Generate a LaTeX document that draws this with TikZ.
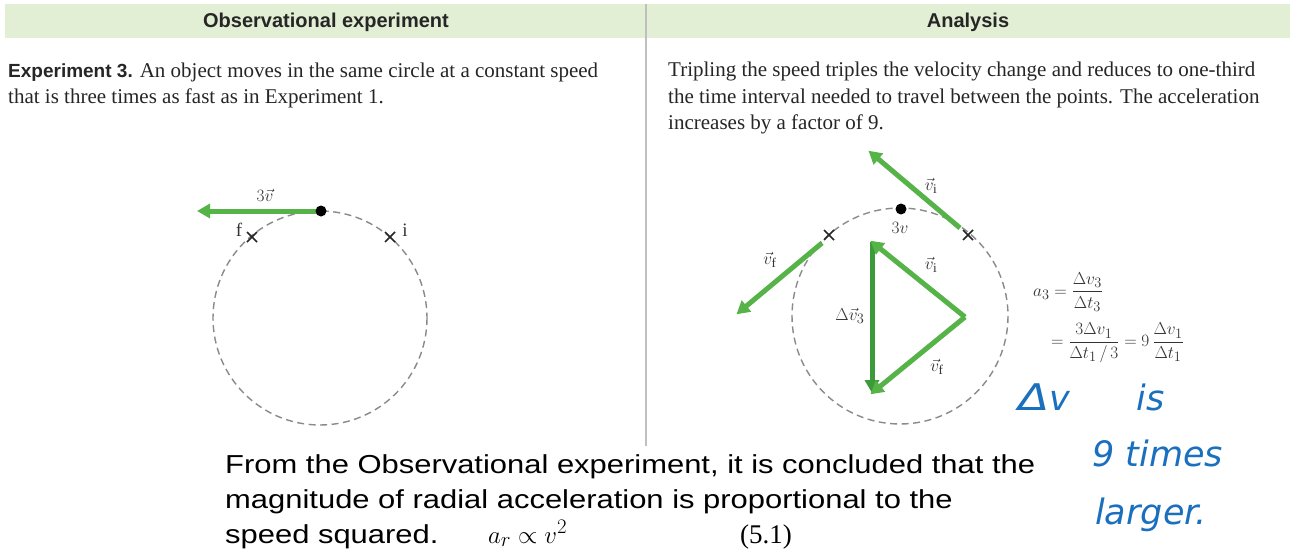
\documentclass[tikz,border=0pt]{standalone}
\usepackage{amsmath}
\usepackage{fontspec}
\setmainfont{Liberation Serif}
\setsansfont{Liberation Sans}
\newfontfamily\handfont{DejaVu Sans}
\usetikzlibrary{arrows.meta,calc}
\definecolor{hdrgreen}{HTML}{E2EFD4}
\definecolor{vgreen}{HTML}{55B347}
\definecolor{dgreen}{HTML}{3C9A3A}
\definecolor{circgray}{HTML}{8A8A8A}
\definecolor{inkblue}{HTML}{1A6FBF}
\tikzset{
  hdr/.style={font=\sffamily\bfseries\fontsize{20}{22}\selectfont, text=black!85},
  body/.style={anchor=base west, inner sep=0pt, font=\fontsize{21}{24}\selectfont, text=black!85},
  concl/.style={anchor=base west, inner sep=0pt, font=\sffamily\fontsize{26}{28}\selectfont},
  lbl/.style={inner sep=0pt, font=\fontsize{19}{21}\selectfont, text=black!80},
  orbit/.style={draw=circgray, line width=1.4pt, dash pattern=on 7pt off 4.5pt},
  vec/.style={draw=vgreen, line width=5pt, -{Triangle[length=13pt,width=14pt]}, shorten >=-2pt},
  dvec/.style={draw=dgreen, line width=5pt, -{Triangle[length=13pt,width=14pt]}},
  cross/.style={draw=black!85, line width=1.6pt},
  hand/.style={anchor=base west, inner sep=0pt, text=inkblue, font=\handfont\itshape\fontsize{35}{38}\selectfont},
}
\begin{document}
\begin{tikzpicture}[x=1pt,y=-1pt]
\useasboundingbox (0,0) rectangle (1290,557);
\fill[white] (0,0) rectangle (1290,557);
% header band
\fill[hdrgreen] (5,4) rectangle (1290,38);
\draw[black!25, line width=1.6pt] (646,4) -- (646,446);
\node[hdr] (h1) at (326,22) {Observational experiment};
\node[hdr] (h2) at (968,22) {Analysis};
% left text
\node[body] (l1) at (8,77) {{\sffamily\bfseries\fontsize{19}{22}\selectfont Experiment 3.} An object moves in the same circle at a constant speed};
\node[body] (l2) at (8,103) {that is three times as fast as in Experiment 1.};
% right text
\node[body] (r1) at (668,76) {Tripling the speed triples the velocity change and reduces to one-third};
\node[body] (r2) at (668,103) {the time interval needed to travel between the points. The acceleration};
\node[body] (r3) at (668,129) {increases by a factor of 9.};
% left circle
\coordinate (cL) at (320,318);
\draw[orbit] (cL) circle[radius=107];
\coordinate (dotL) at (321,211);
\coordinate (tipL) at (199,211);
\draw[vec] (dotL) -- (tipL);
\fill[black] (dotL) circle[radius=5.5];
\node[lbl] (v3L) at (265,195) {$3\vec{v}$};
\coordinate (fL) at (252,237);
\coordinate (iL) at (390,237);
\draw[cross] ($(fL)+(-5,-5)$) -- ($(fL)+(5,5)$) ($(fL)+(-5,5)$) -- ($(fL)+(5,-5)$);
\draw[cross] ($(iL)+(-5,-5)$) -- ($(iL)+(5,5)$) ($(iL)+(-5,5)$) -- ($(iL)+(5,-5)$);
\node[lbl] (fLl) at (239,230) {f};
\node[lbl] (iLl) at (405,230) {i};
% right circle
\coordinate (cR) at (900,316);
\draw[orbit] (cR) circle[radius=108];
\coordinate (dotR) at (901,209);
\coordinate (fR) at (829,235);
\coordinate (iR) at (968,235);
\coordinate (viS) at (960,228);
\coordinate (viT) at (870,152);
\coordinate (vfS) at (822,243);
\coordinate (vfT) at (738,313);
\draw[vec] (viS) -- (viT);
\draw[vec] (vfS) -- (vfT);
\draw[cross] ($(fR)+(-5,-5)$) -- ($(fR)+(5,5)$) ($(fR)+(-5,5)$) -- ($(fR)+(5,-5)$);
\draw[cross] ($(iR)+(-5,-5)$) -- ($(iR)+(5,5)$) ($(iR)+(-5,5)$) -- ($(iR)+(5,-5)$);
\fill[black] (dotR) circle[radius=5.5];
\node[lbl] (v3R) at (900,228) {$3v$};
\node[lbl] (viL) at (931,186) {$\vec{v}_{\mathrm{i}}$};
\node[lbl] (vfL) at (770,260) {$\vec{v}_{\mathrm{f}}$};
% triangle
\coordinate (tA) at (872,242);
\coordinate (tB) at (965,317);
\coordinate (tC) at (872,393);
\draw[dvec] (tA) -- (tC);
\draw[vec, line join=round] (tB) -- (tA);
\draw[vec] (tB) -- (tC);
\node[lbl] (vi2) at (931,265) {$\vec{v}_{\mathrm{i}}$};
\node[lbl] (vf2) at (937,367) {$\vec{v}_{\mathrm{f}}$};
\node[lbl] (dv3) at (850,316) {$\Delta\vec{v}_3$};
% equation
\node[lbl, anchor=west] (eq1) at (1033,292) {$a_3 = \dfrac{\Delta v_3}{\Delta t_3}$};
\node[lbl, anchor=west] (eq2) at (1051,343) {$= \dfrac{3\Delta v_1}{\Delta t_1\,/\,3} = 9\,\dfrac{\Delta v_1}{\Delta t_1}$};
% conclusion
\node[concl] (c1) at (225,473) {\scalebox{1.19}[1]{From the Observational experiment, it is concluded that the}};
\node[concl] (c2) at (225,508) {\scalebox{1.19}[1]{magnitude of radial acceleration is proportional to the}};
\node[concl] (c3) at (225,543) {\scalebox{1.19}[1]{speed squared.}};
\node[anchor=base west, inner sep=0pt, font=\fontsize{28}{30}\selectfont] (c4) at (488,543) {$a_r \propto v^2$};
\node[anchor=base west, inner sep=0pt, font=\fontsize{27}{29}\selectfont] (c5) at (740,543) {(5.1)};
% handwritten note
\node[hand] (n1) at (1018,410) {\scalebox{1.3}[1.05]{Δ}v\hspace{1.9em}is};
\node[hand] (n2) at (1092,466) {9 times};
\node[hand] (n3) at (1095,524) {larger.};
\end{tikzpicture}
\end{document}
